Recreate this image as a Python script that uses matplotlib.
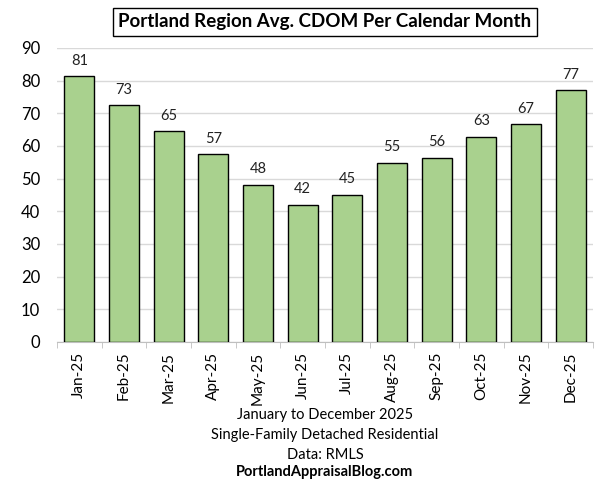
import matplotlib
matplotlib.use("Agg")
import matplotlib.pyplot as plt
import numpy as np

months = ["Jan-25", "Feb-25", "Mar-25", "Apr-25", "May-25", "Jun-25",
          "Jul-25", "Aug-25", "Sep-25", "Oct-25", "Nov-25", "Dec-25"]
cdom = [81.3, 72.6, 64.6, 57.4, 48.2, 42.0, 45.1, 54.9, 56.4, 62.9, 66.7, 77.1]
labels = ["81", "73", "65", "57", "48", "42", "45", "55", "56", "63", "67", "77"]
yticks = [0, 10, 20, 30, 40, 50, 60, 70, 80, 90]
title = "Portland Region Avg. CDOM Per Calendar Month"
captions = ["January to December 2025", "Single-Family Detached Residential", "Data: RMLS"]
footer = "PortlandAppraisalBlog.com"

plt.rcParams['font.family'] = ['Lato', 'DejaVu Sans']

fig = plt.figure(figsize=(6.07, 4.8), dpi=100)
ax = fig.add_axes([57/607, 1 - 342/480, (593-57)/607, (342-48)/480])

x = np.arange(len(months))
ax.bar(x, cdom, width=0.67, color="#a9d18e", edgecolor="black", linewidth=1.0, zorder=3)
for xi, v, lab in zip(x, cdom, labels):
    ax.annotate(lab, (xi, v), xytext=(0, 6), textcoords="offset points",
                ha="center", va="bottom", fontsize=10.5, color="#222222")

ax.set_xlim(-0.5, len(months) - 0.5)
ax.set_ylim(0, 90)
ax.set_yticks(yticks)
ax.yaxis.grid(True, color="#d9d9d9", linewidth=1.0, zorder=0)
ax.set_axisbelow(True)
for s in ["top", "right", "left"]:
    ax.spines[s].set_visible(False)
ax.spines["bottom"].set_color("#bfbfbf")
ax.tick_params(axis="y", length=0, labelsize=12, pad=12)
ax.set_xticks(x)
ax.set_xticklabels(months, rotation=90, fontsize=11)
ax.set_xticks(np.arange(-0.5, len(months), 1), minor=True)
ax.tick_params(axis="x", which="major", length=0, pad=7)
ax.tick_params(axis="x", which="minor", length=4, color="#bfbfbf")

fig.text(325/607, 1 - 22/480, title, ha="center", va="center", fontsize=13.5,
         fontweight="bold",
         bbox=dict(boxstyle="square,pad=0.3", facecolor="white", edgecolor="black", linewidth=1))

for i, c in enumerate(captions):
    fig.text(325/607, 1 - (415 + 20*i)/480, c, ha="center", va="center", fontsize=10.5)
fig.text(325/607, 1 - 472/480, footer, ha="center", va="center", fontsize=10.5, fontweight="bold")

fig.savefig("out.png", dpi=100)
